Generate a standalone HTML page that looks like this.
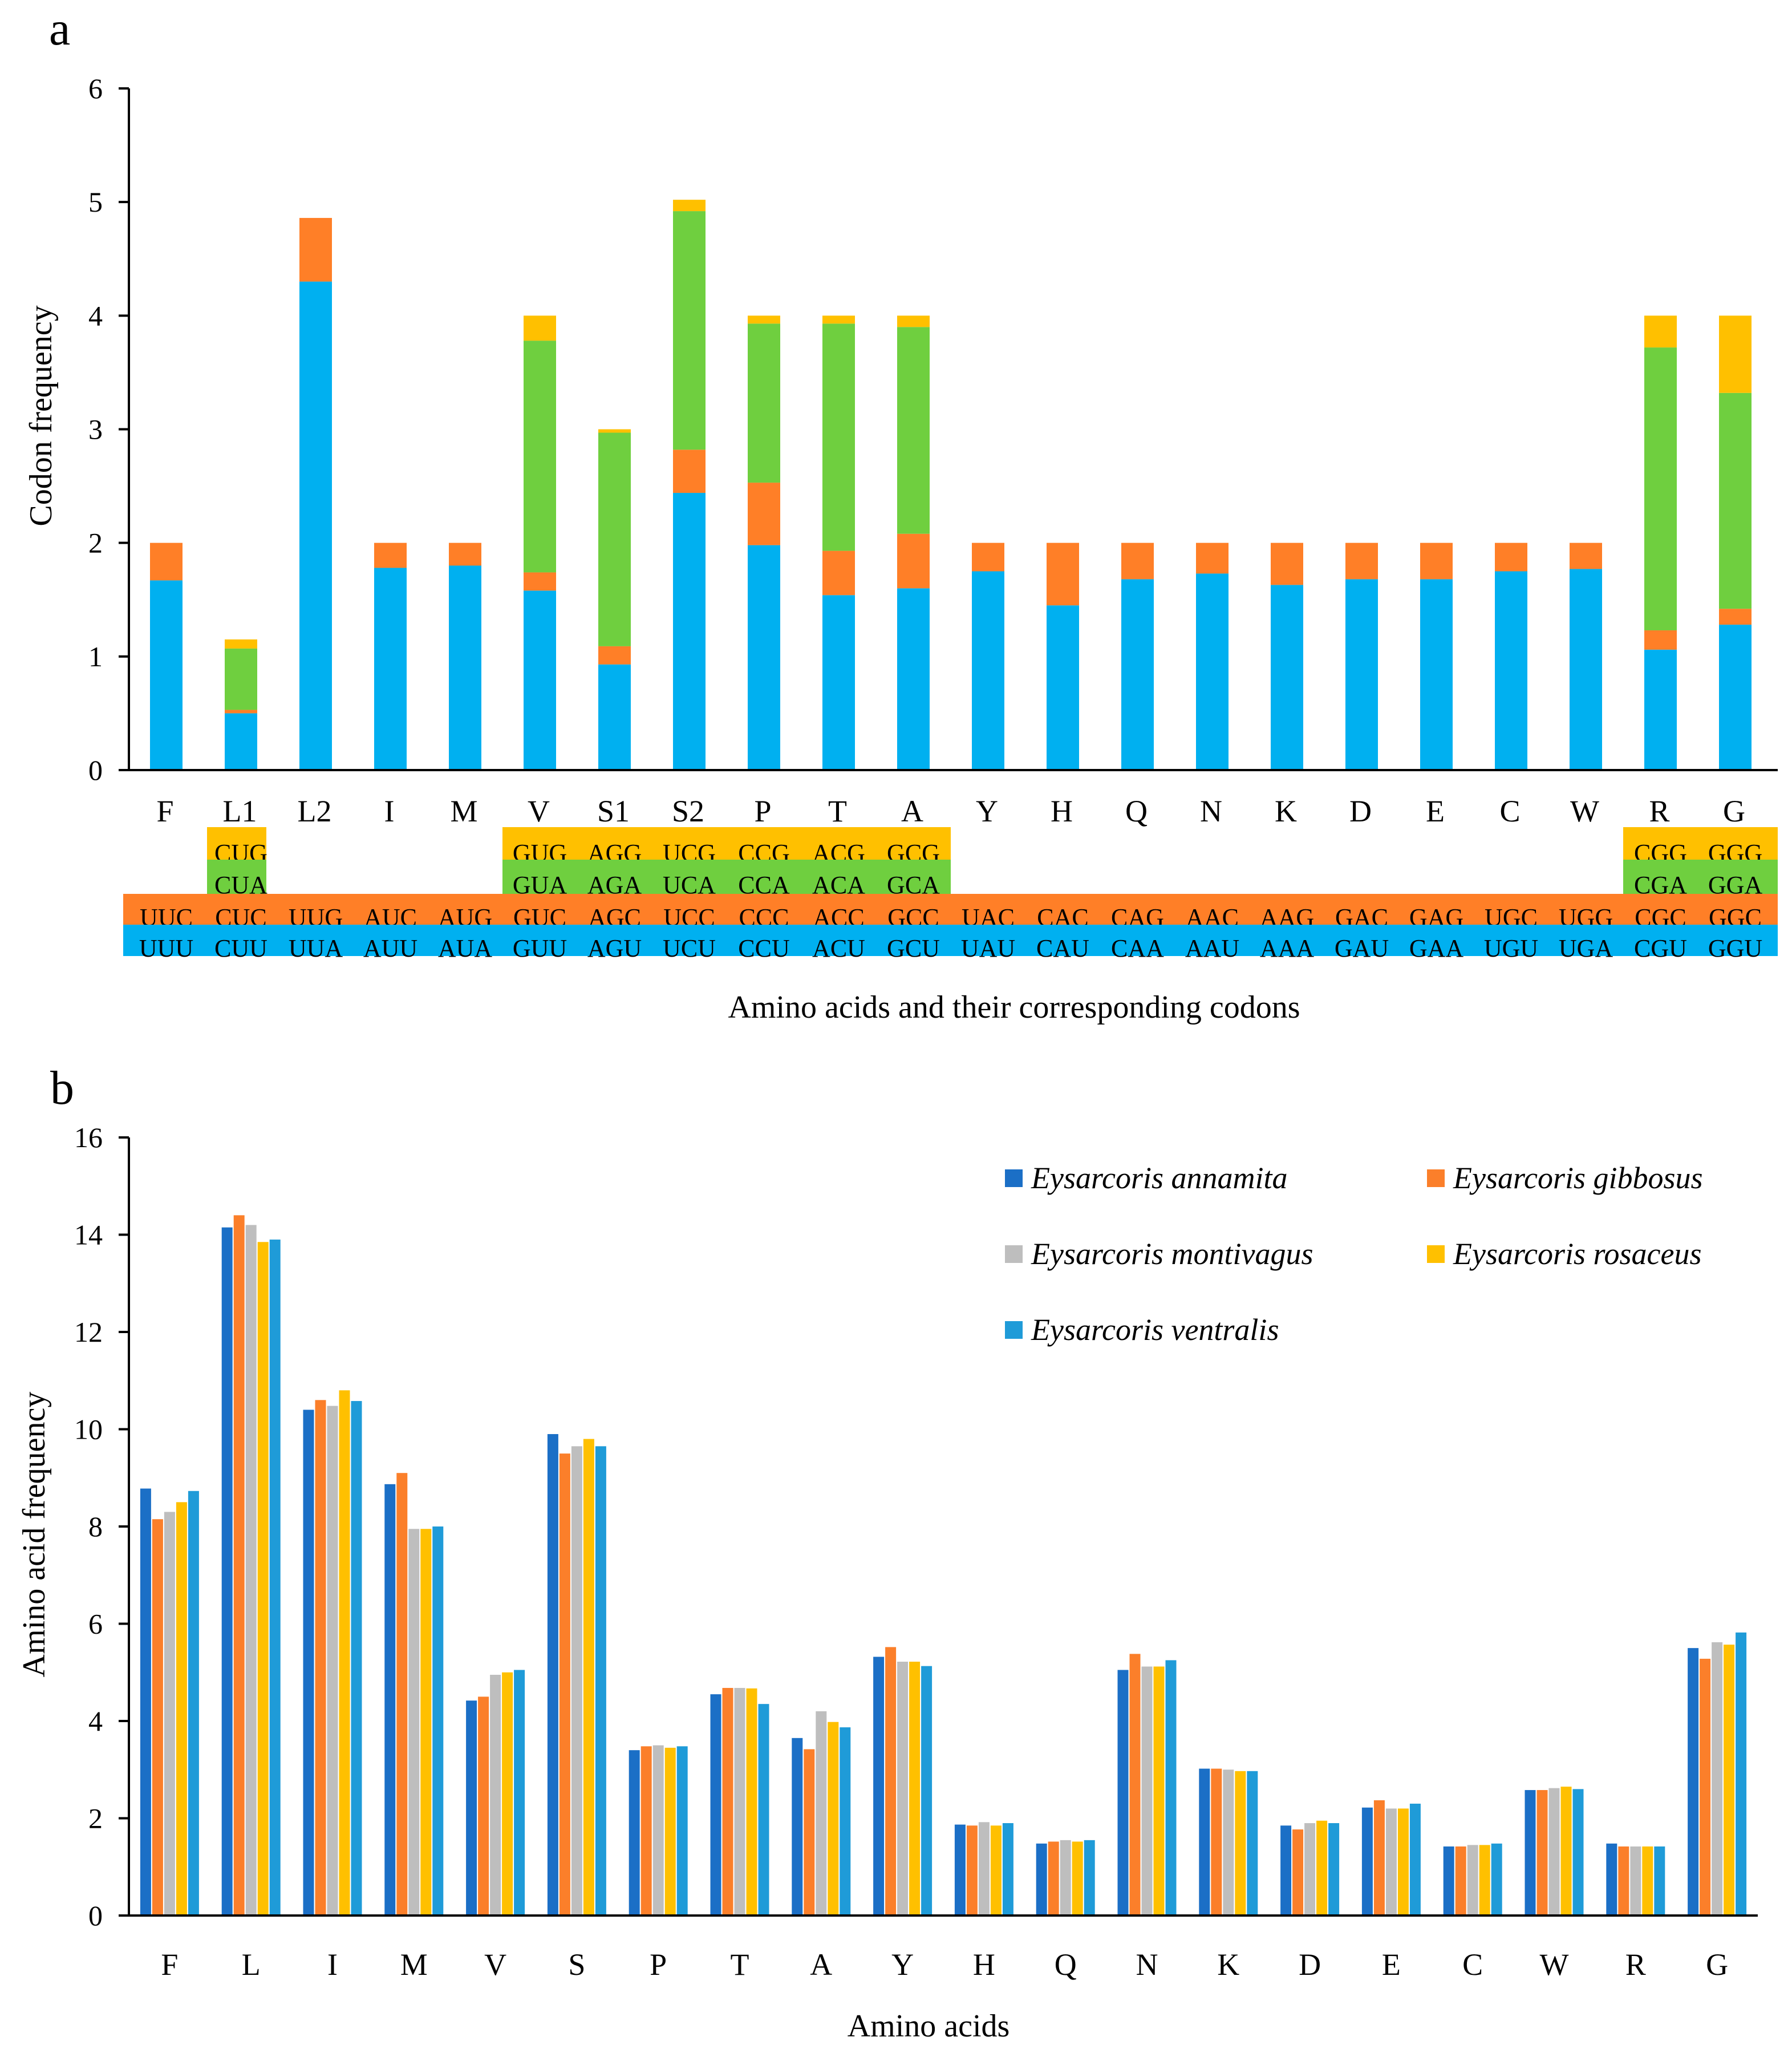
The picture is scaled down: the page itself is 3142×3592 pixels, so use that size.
<!DOCTYPE html>
<html><head><meta charset="utf-8">
<style>
html,body{margin:0;padding:0;background:#fff;}
svg{display:block;font-family:"Liberation Serif",serif;}
</style></head>
<body>
<svg id="fig" width="3142" height="3592" viewBox="0 0 3142 3592" xmlns="http://www.w3.org/2000/svg" font-family="Liberation Serif, serif">
<rect x="0" y="0" width="3142" height="3592" fill="#fff"/>
<text x="86" y="78" font-size="84">a</text>
<text x="88" y="1935" font-size="84">b</text>
<g id="ga"></g>
<g id="gb"></g>
</svg>
<script>
// ---------- Panel a data ----------
const catsA = ["F","L1","L2","I","M","V","S1","S2","P","T","A","Y","H","Q","N","K","D","E","C","W","R","G"];
const segU  = [1.67,0.50,4.30,1.78,1.80,1.58,0.93,2.44,1.98,1.54,1.60,1.75,1.45,1.68,1.73,1.63,1.68,1.68,1.75,1.77,1.06,1.28];
const segC  = [0.33,0.03,0.56,0.22,0.20,0.16,0.16,0.38,0.55,0.39,0.48,0.25,0.55,0.32,0.27,0.37,0.32,0.32,0.25,0.23,0.17,0.14];
const segA  = [0,0.54,0,0,0,2.04,1.88,2.10,1.40,2.00,1.82,0,0,0,0,0,0,0,0,0,2.49,1.90];
const segG  = [0,0.08,0,0,0,0.22,0.03,0.10,0.07,0.07,0.10,0,0,0,0,0,0,0,0,0,0.28,0.68];
const ticksA = [0,1,2,3,4,5,6];
const codU = ["UUU","CUU","UUA","AUU","AUA","GUU","AGU","UCU","CCU","ACU","GCU","UAU","CAU","CAA","AAU","AAA","GAU","GAA","UGU","UGA","CGU","GGU"];
const codC = ["UUC","CUC","UUG","AUC","AUG","GUC","AGC","UCC","CCC","ACC","GCC","UAC","CAC","CAG","AAC","AAG","GAC","GAG","UGC","UGG","CGC","GGC"];
const codA = ["","CUA","","","","GUA","AGA","UCA","CCA","ACA","GCA","","","","","","","","","","CGA","GGA"];
const codG = ["","CUG","","","","GUG","AGG","UCG","CCG","ACG","GCG","","","","","","","","","","CGG","GGG"];

// ---------- Panel b data ----------
const catsB = ["F","L","I","M","V","S","P","T","A","Y","H","Q","N","K","D","E","C","W","R","G"];
const speciesNames = ["Eysarcoris annamita","Eysarcoris gibbosus","Eysarcoris montivagus","Eysarcoris rosaceus","Eysarcoris ventralis"];
const annamita   = [8.78,14.15,10.40,8.87,4.42,9.90,3.40,4.55,3.65,5.32,1.87,1.48,5.05,3.02,1.85,2.22,1.42,2.58,1.48,5.50];
const gibbosus   = [8.15,14.40,10.60,9.10,4.50,9.50,3.48,4.68,3.42,5.52,1.85,1.52,5.38,3.02,1.77,2.37,1.42,2.58,1.42,5.28];
const montivagus = [8.30,14.20,10.48,7.95,4.95,9.65,3.50,4.68,4.20,5.22,1.92,1.55,5.12,3.00,1.90,2.20,1.45,2.62,1.42,5.62];
const rosaceus   = [8.50,13.85,10.80,7.95,5.00,9.80,3.45,4.67,3.98,5.22,1.85,1.52,5.12,2.97,1.95,2.20,1.45,2.65,1.42,5.57];
const ventralis  = [8.73,13.90,10.58,8.00,5.05,9.65,3.48,4.35,3.87,5.13,1.90,1.55,5.25,2.97,1.90,2.30,1.48,2.60,1.42,5.82];
const ticksB = [0,2,4,6,8,10,12,14,16];

const NS="http://www.w3.org/2000/svg";
function mk(parent,tag,attrs,txt){const e=document.createElementNS(NS,tag);for(const k in attrs)e.setAttribute(k,attrs[k]);if(txt!==undefined)e.textContent=txt;parent.appendChild(e);return e;}
const SERIF='"Liberation Serif", serif';

// ===== Panel A =====
(function(){
const g=document.getElementById('ga');
const X0=226,X1=3117,Y0=1350,Y6=155;
const band=131;
const yA=v=>Y0-(v/6)*(Y0-Y6);
const xA=i=>X0+band*(i+0.5);
const bw=57;
const cols={U:"#00B0F0",C:"#FF7F27",A:"#6FCF3F",G:"#FFC000"};
catsA.forEach((c,i)=>{
  let base=0;
  [[segU,cols.U,'u'],[segC,cols.C,'c'],[segA,cols.A,'a'],[segG,cols.G,'g']].forEach(([arr,col,k])=>{
    const v=arr[i]; if(v<=0) return;
    const r=mk(g,'rect',{x:xA(i)-bw/2,y:yA(base+v),width:bw,height:yA(base)-yA(base+v),fill:col});
    
    
    base+=v;
  });
  const t=mk(g,'text',{x:xA(i)-2,y:1440,'font-size':54,'text-anchor':'middle','font-family':SERIF},c);
  
  
});
const ax=mk(g,'path',{d:`M${X0},${Y6} V${Y0} M208,${Y0} H${X1}`,stroke:'#000','stroke-width':4,fill:'none'});


ticksA.forEach(v=>{
  const y=yA(v);
  const tk=mk(g,'line',{x1:208,x2:X0,y1:y,y2:y,stroke:'#000','stroke-width':4});
  
  
  const t=mk(g,'text',{x:180,y:y+17,'font-size':50,'text-anchor':'end','font-family':SERIF},String(v));
  
  
});
const yt=mk(g,'text',{x:0,y:0,'font-size':56,'text-anchor':'middle','font-family':SERIF,transform:'translate(90,729) rotate(-90)'},'Codon frequency');


const rows=[[codG,cols.G,1450,1507,1494],[codA,cols.A,1507,1567,1550],[codC,cols.C,1567,1621,1607],[codU,cols.U,1621,1675,1661]];
rows.forEach(([arr,col,top,bot,ty],ri)=>{
  let i=0;
  while(i<arr.length){
    if(arr[i]===""){i++;continue;}
    let j=i; while(j<arr.length&&arr[j]!=="") j++;
    let x1=X0+band*i, x2=X0+band*j;
    if(ri>=2){ if(i===0) x1=216; }
    if(j===arr.length) x2=X1;
    if(ri<2 && i===1 && j===2){x1=363;x2=467;}
    const r=mk(g,'rect',{x:x1,y:top,width:x2-x1,height:bot-top+1,fill:col});
    
    
    i=j;
  }
  arr.forEach((s,k)=>{
    if(!s) return;
    const t=mk(g,'text',{x:xA(k),y:ty+16,'font-size':44,'text-anchor':'middle','font-family':SERIF},s);
    
    
  });
});
const xt=mk(g,'text',{x:1778,y:1784,'font-size':56,'text-anchor':'middle','font-family':SERIF},'Amino acids and their corresponding codons');


})();

// ===== Panel B =====
(function(){
const g=document.getElementById('gb');
const X0=226,X1=3082,Y0=3358,Y16=1994;
const band=(X1-X0)/catsB.length;
const yB=v=>Y0-(v/16)*(Y0-Y16);
const xB=i=>X0+band*(i+0.5);
const series=[annamita,gibbosus,montivagus,rosaceus,ventralis];
const colors=["#1B6FC6","#FB7F2A","#BEBEBE","#FFC000","#1F9BD8"];
const sw=21;
catsB.forEach((c,i)=>{
  series.forEach((arr,s)=>{
    const x=xB(i)+(s-2)*sw-sw/2;
    const r=mk(g,'rect',{x:x+1,y:yB(arr[i]),width:sw-2,height:Y0-yB(arr[i]),fill:colors[s]});
    
    
  });
  const t=mk(g,'text',{x:xB(i),y:3462,'font-size':54,'text-anchor':'middle','font-family':SERIF},c);
  
  
});
const ax=mk(g,'path',{d:`M${X0},${Y16} V${Y0} M208,${Y0} H${X1}`,stroke:'#000','stroke-width':4,fill:'none'});


ticksB.forEach(v=>{
  const y=yB(v);
  const tk=mk(g,'line',{x1:208,x2:X0,y1:y,y2:y,stroke:'#000','stroke-width':4});
  
  
  const t=mk(g,'text',{x:180,y:y+17,'font-size':50,'text-anchor':'end','font-family':SERIF},String(v));
  
  
});
const yt=mk(g,'text',{x:0,y:0,'font-size':56,'text-anchor':'middle','font-family':SERIF,transform:'translate(78,2690) rotate(-90)'},'Amino acid frequency');


const xt=mk(g,'text',{x:1628,y:3570,'font-size':56,'text-anchor':'middle','font-family':SERIF},'Amino acids');


const lx=[1762,2502,1762,2502,1762], ly=[2066,2066,2199,2199,2332];
speciesNames.forEach((n,s)=>{
  const lg=mk(g,'g',{});
  
  
  mk(lg,'rect',{x:lx[s],y:ly[s]-16,width:31,height:31,fill:colors[s]});
  mk(lg,'text',{x:lx[s]+46,y:ly[s]+17,'font-size':54,'font-style':'italic','font-family':SERIF},n);
});
})();
</script>
</body></html>
